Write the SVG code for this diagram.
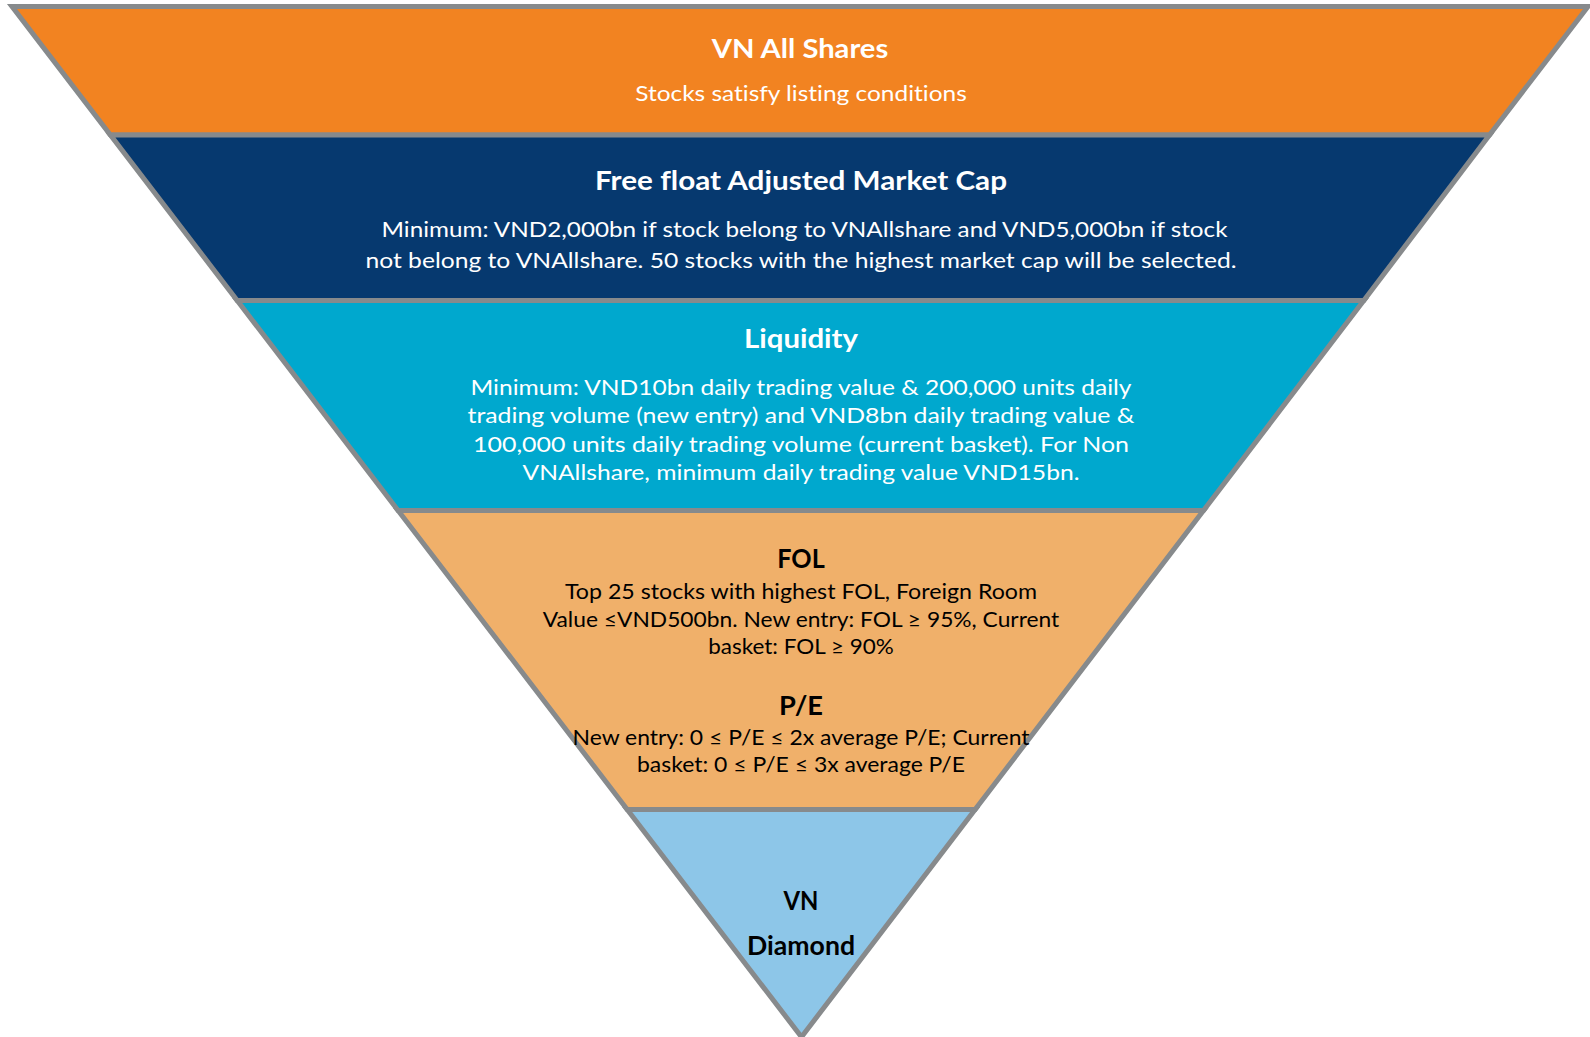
<svg xmlns="http://www.w3.org/2000/svg" width="1590" height="1037" viewBox="0 0 1590 1037">
<style>
.band{stroke:#878A8C;stroke-width:5;stroke-linejoin:miter}
.t{font-family:Lato,"Liberation Sans",sans-serif;text-anchor:middle;font-variant-ligatures:none;font-feature-settings:"liga" 0,"clig" 0}
.h{font-weight:bold;font-size:26.5px}
.b{font-size:21.5px}
.w{fill:#FFFFFF}
.k{fill:#000000}
</style>
<rect width="1590" height="1037" fill="#FFFFFF"/>
<g id="vn-all-shares">
<polygon class="band" fill="#F28321" points="12,6.5 1588,6.5 1489.5,135 110.4,135"/>
<text class="t h w" x="800" y="57.5" textLength="176.5" lengthAdjust="spacingAndGlyphs">VN All Shares</text>
<text class="t b w" x="801" y="101" textLength="331.5" lengthAdjust="spacingAndGlyphs">Stocks satisfy listing conditions</text>
</g>
<g id="free-float">
<polygon class="band" fill="#06396F" points="110.4,135 1489.5,135 1363.8,300.5 237.2,300.5"/>
<text class="t h w" x="801" y="189.5" textLength="412" lengthAdjust="spacingAndGlyphs">Free float Adjusted Market Cap</text>
<text class="t b w" x="804.5" y="236.5" textLength="846" lengthAdjust="spacingAndGlyphs">Minimum: VND2,000bn if stock belong to VNAllshare and VND5,000bn if stock</text>
<text class="t b w" x="801" y="268" textLength="871" lengthAdjust="spacingAndGlyphs">not belong to VNAllshare. 50 stocks with the highest market cap will be selected.</text>
</g>
<g id="liquidity">
<polygon class="band" fill="#00A8CE" points="237.2,300.5 1363.8,300.5 1203.5,510.5 398.1,510.5"/>
<text class="t h w" x="801" y="348" textLength="114" lengthAdjust="spacingAndGlyphs">Liquidity</text>
<text class="t b w" x="801" y="394.5" textLength="661" lengthAdjust="spacingAndGlyphs">Minimum: VND10bn daily trading value &amp; 200,000 units daily</text>
<text class="t b w" x="801" y="423" textLength="667" lengthAdjust="spacingAndGlyphs">trading volume (new entry) and VND8bn daily trading value &amp;</text>
<text class="t b w" x="801" y="451.5" textLength="656" lengthAdjust="spacingAndGlyphs">100,000 units daily trading volume (current basket). For Non</text>
<text class="t b w" x="801" y="480" textLength="557" lengthAdjust="spacingAndGlyphs">VNAllshare, minimum daily trading value VND15bn.</text>
</g>
<g id="fol-pe">
<polygon class="band" fill="#F0B06A" points="398.1,510.5 1203.5,510.5 975.1,809.5 627.2,809.5"/>
<text class="t h k" x="801" y="567.5" textLength="47.5" lengthAdjust="spacingAndGlyphs">FOL</text>
<text class="t b k" x="801" y="598.5" textLength="472" lengthAdjust="spacingAndGlyphs">Top 25 stocks with highest FOL, Foreign Room</text>
<text class="t b k" x="801" y="627" textLength="516.5" lengthAdjust="spacingAndGlyphs">Value ≤VND500bn. New entry: FOL ≥ 95%, Current</text>
<text class="t b k" x="801" y="653.5" textLength="185.5" lengthAdjust="spacingAndGlyphs">basket: FOL ≥ 90%</text>
<text class="t h k" x="801" y="715" textLength="44" lengthAdjust="spacingAndGlyphs">P/E</text>
<text class="t b k" x="801" y="744.5" textLength="457" lengthAdjust="spacingAndGlyphs">New entry: 0 ≤ P/E ≤ 2x average P/E; Current</text>
<text class="t b k" x="801" y="772" textLength="328" lengthAdjust="spacingAndGlyphs">basket: 0 ≤ P/E ≤ 3x average P/E</text>
</g>
<g id="vn-diamond">
<polygon class="band" fill="#8DC6E8" points="627.2,809.5 975.1,809.5 801.5,1037"/>
<text class="t h k" x="801" y="910" textLength="35" lengthAdjust="spacingAndGlyphs">VN</text>
<text class="t h k" x="801" y="955" textLength="108" lengthAdjust="spacingAndGlyphs">Diamond</text>
</g>
</svg>
